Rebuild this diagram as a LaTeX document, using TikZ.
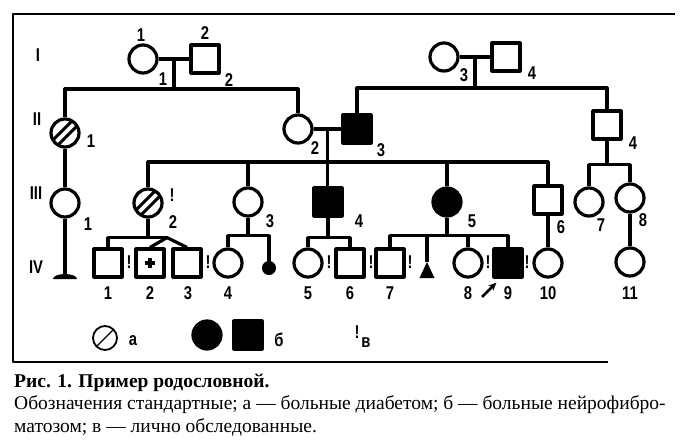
\documentclass[tikz,border=0pt]{standalone}
\usepackage{fontspec}
\setmainfont{Liberation Serif}
\newfontfamily\lblfont[FakeStretch=0.8]{Liberation Sans}
\usetikzlibrary{arrows.meta,calc}

\tikzset{
  person/.style={draw,line width=3.2pt,minimum size=28pt,inner sep=0pt},
  female/.style={person,circle},
  male/.style={person,rectangle},
  sick/.style={fill=black},
  diab/.style={path picture={
      \draw[line width=3pt]
        ([shift={(-14pt,-9pt)}]path picture bounding box.center) --
        ([shift={(9pt,14pt)}]path picture bounding box.center)
        ([shift={(-9pt,-14pt)}]path picture bounding box.center) --
        ([shift={(14pt,9pt)}]path picture bounding box.center);}},
  crossed/.style={path picture={
      \draw[line width=3.4pt]
        ([xshift=-5pt]path picture bounding box.center) --
        ([xshift=5pt]path picture bounding box.center)
        ([yshift=-5pt]path picture bounding box.center) --
        ([yshift=5pt]path picture bounding box.center);}},
  link/.style={line width=3.2pt},
  num/.style={font=\lblfont\bfseries\fontsize{18.5}{18}\selectfont,inner sep=0pt},
  capt/.style={anchor=west,inner sep=0pt,font=\fontsize{19.5}{22}\selectfont}
}

\begin{document}
\begin{tikzpicture}[x=1pt,y=-1pt,>={Stealth[length=8pt,width=7pt]},line join=round]
\useasboundingbox (0,0) rectangle (696,442);

%% ---------------- frame and generation numbers ----------------
\draw[line width=1.7pt] (675,14) -- (13,14) -- (13,362) -- (608,362);
\node[num] (gI) at (38,55) {I};
\node[num] (gII) at (37,119) {II};
\node[num] (gIII) at (36,193) {III};
\node[num] (gIV) at (36,267) {IV};

%% ---------------- generation I ----------------
\node[female] (I1) at (143,59) {};
\node[male] (I2) at (205,59) {};
\node[female] (I3) at (444,57) {};
\node[male] (I4) at (506,57) {};
\draw[link] (I1) -- (I2);
\draw[link] (I3) -- (I4);
\node[num] (nI1a) at (141,35) {1};
\node[num] (nI1b) at (163,79) {1};
\node[num] (nI2a) at (205,33) {2};
\node[num] (nI2b) at (229,80) {2};
\node[num] (nI3) at (464,75) {3};
\node[num] (nI4) at (532,73) {4};

%% ---------------- generation II ----------------
\node[female,diab] (II1) at (65,133) {};
\node[female] (II2) at (298,129) {};
\node[male,sick] (II3) at (357,129) {};
\node[male] (II4) at (607,125) {};
\draw[link] (II2) -- (II3);
\node[num] (nII1) at (91,141) {1};
\node[num] (nII2) at (315,148) {2};
\node[num] (nII3) at (381,150) {3};
\node[num] (nII4) at (633,143) {4};

%% sibships of generation II
\coordinate (c1) at ($(I1)!0.5!(I2)$);
\coordinate (s1) at ($(c1)+(0,30)$);
\draw[link] (c1) -- (s1);
\draw[link] (II1.north) |- (s1) -| (II2.north);
\coordinate (c2) at ($(I3)!0.5!(I4)$);
\coordinate (s2) at ($(c2)+(0,31)$);
\draw[link] (c2) -- (s2);
\draw[link] (II3.north) |- (s2) -| (II4.north);

%% ---------------- generation III ----------------
\node[female] (III1) at (65,203) {};
\node[female,diab] (III2) at (148,203) {};
\node[female] (III3) at (248,202) {};
\node[male,sick] (III4) at (328,202) {};
\node[female,sick] (III5) at (447,202) {};
\node[male] (III6) at (548,200) {};
\node[female] (III7) at (589,202) {};
\node[female] (III8) at (630,198) {};
\node[num] (nIII1) at (88,224) {1};
\node[num] (xIII2) at (172,195) {!};
\node[num] (nIII2) at (173,222) {2};
\node[num] (nIII3) at (270,221) {3};
\node[num] (nIII4) at (359,221) {4};
\node[num] (nIII5) at (472,221) {5};
\node[num] (nIII6) at (561,227) {6};
\node[num] (nIII7) at (601,225) {7};
\node[num] (nIII8) at (643,220) {8};

%% sibships of generation III
\draw[link] (II1) -- (III1);
\coordinate (c3) at ($(II2)!0.5!(II3)$);
\coordinate (s3) at ($(c3)+(0,33)$);
\draw[link] (c3) -- (c3 |- III4.north);
\draw[link] (III2.north) |- (s3) -| (III6.north);
\draw[link] (III3.north) -- (III3.north |- s3);
\draw[link] (III5.north) -- (III5.north |- s3);
\coordinate (s4) at ($(II4.south)+(0,24)$);
\draw[link] (II4.south) -- (s4);
\draw[link] (III7.north) |- (s4) -| (III8.north);

%% III-1 has no children
\coordinate (e1) at (65,279);
\draw[link] (III1) -- (e1);
\fill ([xshift=-12pt]e1) arc[start angle=180,end angle=0,x radius=12pt,y radius=5pt] -- cycle;

%% ---------------- generation IV ----------------
\node[male] (IV1) at (108,263) {};
\node[male,crossed] (IV2) at (150,263) {};
\node[male] (IV3) at (187,263) {};
\node[female] (IV4) at (228,263) {};
\node[female,sick,line width=1pt,minimum size=13pt] (IVd) at (269,268) {};
\node[female] (IV5) at (308,263) {};
\node[male] (IV6) at (350,263) {};
\node[male] (IV7) at (390,263) {};
\coordinate (IVt) at (427,262);
\node[female] (IV8) at (468,263) {};
\node[male,sick] (IV9) at (508,263) {};
\node[female] (IV10) at (548,263) {};
\node[female] (IV11) at (630,262) {};
\fill (IVt) -- ++(-7.5,16) -- ++(15,0) -- cycle;

%% sibships of generation IV
\coordinate (s5) at ($(III2.south)+(0,19)$);
\coordinate (tw) at ($(s5)+(19,0)$);
\draw[link] (III2.south) -- (s5);
\draw[link] (IV1.north) |- (tw);
\draw[link] (IV2.north) -- (tw) -- (IV3.north);
\coordinate (s6) at ($(III3.south)+(0,18)$);
\draw[link] (III3.south) -- (s6);
\draw[link] (IV4.north) |- (s6) -| (IVd.north);
\coordinate (s7) at ($(III4.south)+(0,20)$);
\draw[link] (III4.south) -- (s7);
\draw[link] (IV5.north) |- (s7) -| (IV6.north);
\coordinate (s8) at ($(III5.south)+(0,18)$);
\draw[link] (III5.south) -- (s8);
\draw[link] (IV7.north) |- (s8) -| (IV9.north);
\draw[link] (IV8.north) -- (IV8.north |- s8);
\draw[link] (IVt) -- (IVt |- s8);
\draw[link] (III6) -- (IV10);
\draw[link] (III8) -- (IV11);

%% numbers and personally examined marks
\foreach \n/\x in {1/108,2/150,3/188,4/228,5/308,6/350,7/390,8/468,9/508,10/548,11/630}
  \node[num] (nIV\n) at (\x,293) {\n};
\foreach \x [count=\i] in {129,208,329,371,410,488,527}
  \node[num] (xIV\i) at (\x,262) {!};

%% proband
\coordinate (pr) at (482,297);
\draw[->,line width=2.6pt] (pr) -- ([shift={(4pt,-4pt)}]IV9.south west);

%% ---------------- legend ----------------
\node[female,line width=1.8pt,minimum size=24pt,path picture={
  \draw[line width=1.2pt] (path picture bounding box.south west) --
    (path picture bounding box.north east);}] (Ld) at (105,338) {};
\node[num] (La) at (133,341) {а};
\node[female,sick] (Lc) at (207,335) {};
\node[male,sick] (Ls) at (248,335) {};
\node[num] (Lb) at (279,340) {б};
\node[num] (Lx) at (357,332) {!};
\node[num] (Lv) at (366,343) {в};

%% ---------------- caption ----------------
\node[capt] (cap1) at (14,383) {\textbf{Рис. 1. Пример родословной.}};
\node[capt] (cap2) at (14,405) {Обозначения стандартные; а — больные диабетом; б — больные нейрофибро-};
\node[capt] (cap3) at (14,427) {матозом; в — лично обследованные.};

\end{tikzpicture}
\end{document}
